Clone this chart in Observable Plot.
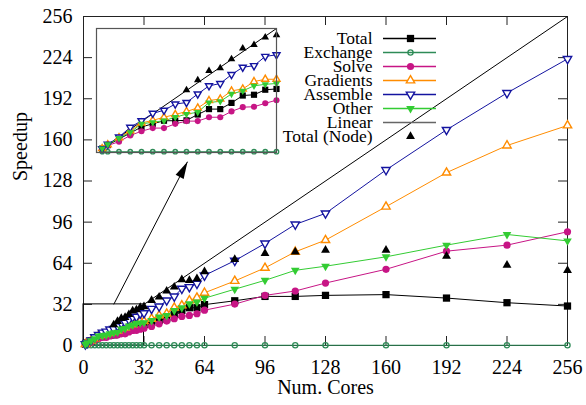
<!DOCTYPE html>
<html><head><meta charset="utf-8">
<script src="https://cdn.jsdelivr.net/npm/d3@7"></script>
<script src="https://cdn.jsdelivr.net/npm/@observablehq/plot@0.6"></script>
<style>
body{margin:0;background:#fff;}
#wrap{position:relative;width:586px;height:405px;overflow:hidden;background:#fff;}
#wrap svg{position:absolute;overflow:visible;}
</style></head><body><div id="wrap"></div>
<script>
// ---------- data ----------
const cores = [1,2,4,6,8,10,12,14,16,18,20,22,24,26,28,30,32,36,40,44,48,52,56,60,64,80,96,112,128,160,192,224,256];
const total = [1,1.9,3.5,5.0,6.6,7.4,8.2,8.2,8.3,9.8,11.2,11.2,12.8,14.7,14.9,16.2,16.4,18.2,19.5,20.8,24.7,27.3,29.4,29.4,31.8,34.8,38.2,38.2,39.0,39.6,36.9,33.3,30.7];
const exchange = [0.2,0.2,0.2,0.2,0.2,0.2,0.2,0.2,0.2,0.2,0.2,0.2,0.2,0.2,0.2,0.2,0.2,0.2,0.2,0.2,0.2,0.2,0.2,0.2,0.2,0.2,0.2,0.2,0.2,0.2,0.2,0.2,0.2];
const solve = [1,1.8,2.8,4.4,5.5,6.3,6.3,7.4,8.1,8.1,9.1,9.1,10.6,11.7,11.8,12.7,13.5,14.8,16.9,19.0,20.8,22.6,23.4,24.7,27.5,32.2,39.0,42.4,48.6,59.3,73.4,78.1,88.5];
const gradients = [1,2.0,3.8,5.6,7.6,8.3,9.1,9.8,10.6,11.5,13.4,13.8,15.9,16.4,18.3,18.9,18.9,20.8,23.4,24.7,29.4,31.2,35.1,37.2,41.0,50.2,60.4,72.9,82.0,108.0,134.5,155.6,171.2];
const assemble = [1,2.1,4.0,6.5,8.2,10.1,10.9,12.5,12.9,15.1,17.2,17.8,20.1,22.0,22.4,24.8,25.2,28.6,30.4,35.1,38.2,44.2,45.5,48.1,54.5,66.0,79.4,94.2,102.8,136.6,167.8,196.5,223.0];
const other = [1,2.1,3.7,5.2,7.4,7.8,8.2,9.1,9.9,10.4,12.9,13.2,15.1,15.9,17.2,17.6,17.8,19.5,22.1,23.4,27.3,29.4,32.5,33.8,36.8,43.8,50.7,58.5,61.7,69.0,78.1,86.4,81.4];
const nodeCores = [16,18,20,22,24,26,28,30,32,36,40,44,48,52,56,60,64,80,96,112,128,160,192,224,256];
const nodeSpeedup = [16.1,18.7,21.1,21.8,24.1,26.9,27.8,29.7,30.3,35.1,37.7,42.4,45.5,51.3,50.7,52.0,57.5,67.0,71.6,72.9,74.2,74.2,69.5,62.5,58.5];
const linearCores = [1, 256];
const xTicks = [0,32,64,96,128,160,192,224,256];
const yTicks = [0,32,64,96,128,160,192,224,256];
const seriesNames = ["Total","Exchange","Solve","Gradients","Assemble","Other","Linear","Total (Node)"];
const seriesColors = ["#000000","#2e8b57","#c71585","#ff8c00","#1414a0","#33cc33","#000000","#000000"];
const zoomBox = {x1: 0, x2: 32, y1: 0, y2: 32};
const arrowSeg = {x1: 16, y1: 32, x2: 55, y2: 143};

// ---------- tables ----------
const seriesValues = {Total: total, Exchange: exchange, Solve: solve, Gradients: gradients, Assemble: assemble, Other: other};
const rows = [];
for (const [s, vals] of Object.entries(seriesValues)) cores.forEach((x, i) => rows.push({s, x, y: vals[i]}));
const nodeRows = nodeCores.map((x, i) => ({s: "Total (Node)", x, y: nodeSpeedup[i]}));
const linearRows = linearCores.map(x => ({s: "Linear", x, y: x}));
const colorOf = Object.fromEntries(seriesNames.map((n, i) => [n, seriesColors[i]]));

const markerStyle = {
  "Total":        {symbol: "square", r: 4.1, fill: colorOf["Total"], stroke: "none"},
  "Exchange":     {symbol: "circle", r: 2.6, fill: "none", stroke: colorOf["Exchange"], strokeWidth: 1.3},
  "Solve":        {symbol: "circle", r: 3.6, fill: colorOf["Solve"], stroke: "none"},
  "Gradients":    {symbol: "triangle", r: 3.1, fill: "white", stroke: colorOf["Gradients"], strokeWidth: 1.4},
  "Assemble":     {symbol: "triangle", r: 3.1, rotate: 180, fill: "white", stroke: colorOf["Assemble"], strokeWidth: 1.4},
  "Other":        {symbol: "triangle", r: 3.2, rotate: 180, fill: colorOf["Other"], stroke: "none"},
  "Total (Node)": {symbol: "triangle", r: 3.3, fill: colorOf["Total (Node)"], stroke: "none"}
};

const FONT = "'Liberation Serif','Times New Roman',serif";

function dataMarks(k, xMax) {
  const keep = d => d.x <= xMax;
  const marks = [
    Plot.line(linearRows, {x: "x", y: "y", stroke: "#000", strokeWidth: 1, clip: true}),
    Plot.line(rows.filter(keep), {x: "x", y: "y", z: "s", stroke: d => colorOf[d.s], strokeWidth: 1})
  ];
  for (const s of Object.keys(seriesValues)) {
    const st = markerStyle[s];
    marks.push(Plot.dot(rows.filter(d => d.s === s && keep(d)), {x: "x", y: "y", ...st, r: st.r * k}));
  }
  const st = markerStyle["Total (Node)"];
  marks.push(Plot.dot(nodeRows.filter(keep), {x: "x", y: "y", ...st, r: st.r * k}));
  return marks;
}

// ---------- main chart ----------
const W = 586, H = 405, mL = 83, mR = 19, mT = 16, mB = 60;
const innerW = W - mL - mR, innerH = H - mT - mB;
const arrowHead = {draw(ctx) { ctx.moveTo(0, 0); ctx.lineTo(-4.5, 17); ctx.lineTo(4.5, 17); ctx.closePath(); }};

const main = Plot.plot({
  width: W, height: H,
  marginLeft: mL, marginRight: mR, marginTop: mT, marginBottom: mB,
  style: {fontFamily: FONT, fontSize: "20px", background: "transparent", color: "#000"},
  x: {domain: [0, 256], label: null},
  y: {domain: [0, 256], label: null},
  marks: [
    Plot.frame({stroke: "#222", strokeWidth: 1}),
    Plot.tickX(xTicks, {x: d => d, insetTop: innerH - 9, stroke: "#222"}),
    Plot.tickX(xTicks, {x: d => d, insetBottom: innerH - 9, stroke: "#222"}),
    Plot.tickY(yTicks, {y: d => d, insetRight: innerW - 9, stroke: "#222"}),
    Plot.tickY(yTicks, {y: d => d, insetLeft: innerW - 9, stroke: "#222"}),
    Plot.axisX({ticks: xTicks, tickSize: 0, tickPadding: 14, label: null, fontSize: 20, tickFormat: d => d}),
    Plot.axisY({ticks: yTicks, tickSize: 0, tickPadding: 11, label: null, fontSize: 20, tickFormat: d => d}),
    Plot.rect([zoomBox], {x1: "x1", x2: "x2", y1: "y1", y2: "y2", fill: "none", stroke: "#000", strokeWidth: 1}),
    Plot.link([arrowSeg], {x1: "x1", y1: "y1", x2: "x2", y2: "y2", stroke: "#000", strokeWidth: 1}),
    Plot.dot([arrowSeg], {x: "x2", y: "y2", symbol: arrowHead, r: 5, fill: "#000", stroke: "none", rotate: 27.5}),
    ...dataMarks(1, Infinity),
    Plot.text(["Speedup"], {frameAnchor: "left", dx: -63, rotate: -90, fontSize: 20, fill: "#000"}),
    Plot.text(["Num. Cores"], {frameAnchor: "bottom", dy: 48, fontSize: 20, fill: "#000"})
  ]
});
main.style.left = "0px"; main.style.top = "0px";

// ---------- inset ----------
const inset = Plot.plot({
  width: 180, height: 124,
  margin: 0,
  style: {background: "#fff", fontFamily: FONT},
  x: {domain: [zoomBox.x1, zoomBox.x2], axis: null},
  y: {domain: [zoomBox.y1, zoomBox.y2], axis: null},
  marks: [
    ...dataMarks(0.85, zoomBox.x2),
    Plot.frame({stroke: "#555", strokeWidth: 1.2})
  ]
});
inset.style.left = "96px"; inset.style.top = "28px";

// ---------- legend ----------
const legendNames = seriesNames;
const legendMarks = [
  Plot.text(legendNames, {x: 92, y: d => d, text: d => d, textAnchor: "end", fontSize: 17.5, fill: "#000"}),
  Plot.ruleY(legendNames.filter(n => n !== "Total (Node)"), {y: d => d, x1: 103, x2: 156,
    stroke: d => d === "Linear" ? "#666" : colorOf[d], strokeWidth: 1.5})
];
for (const n of legendNames) {
  if (!markerStyle[n]) continue;
  legendMarks.push(Plot.dot([{name: n, pos: 130}], {x: "pos", y: "name", ...markerStyle[n]}));
}
const legend = Plot.plot({
  width: 160, height: 116,
  margin: 0,
  style: {background: "transparent", fontFamily: FONT, fontSize: "17px", color: "#000"},
  x: {domain: [0, 160], range: [0, 160], axis: null},
  y: {type: "point", domain: legendNames, range: [7.5, 108.5], padding: 0, axis: null},
  marks: legendMarks
});
legend.style.left = "280px"; legend.style.top = "29px";

const wrap = document.getElementById("wrap");
wrap.append(main, inset, legend);
</script></body></html>
